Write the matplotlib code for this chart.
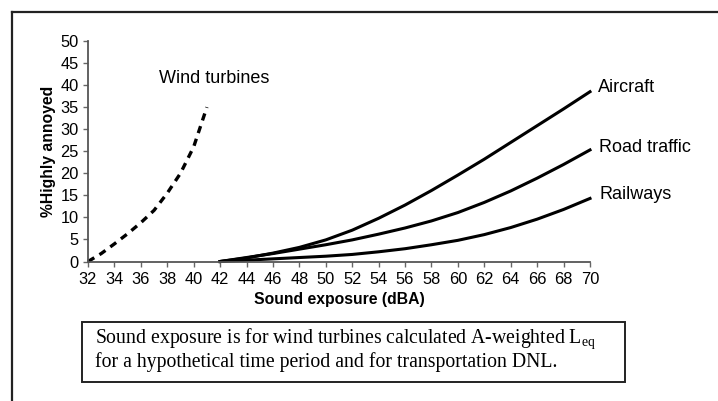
import matplotlib.pyplot as plt
from matplotlib.lines import Line2D
from matplotlib.patches import Rectangle

# values
wind_db = [32, 33, 34, 35, 36, 37, 38, 39, 40, 41]
wind_ha = [0, 1.8, 4.0, 6.3, 8.8, 11.6, 15.5, 20.0, 26.0, 35.0]

transport_db = [42, 44, 46, 48, 50, 52, 54, 56, 58, 60, 62, 64, 66, 68, 70]
aircraft_ha = [0, 0.8, 1.9, 3.2, 4.9, 7.1, 9.8, 12.8, 16.1, 19.6, 23.2, 27.0, 30.8, 34.6, 38.5]
road_ha = [0, 0.9, 1.8, 2.8, 3.8, 4.9, 6.2, 7.6, 9.2, 11.1, 13.4, 16.0, 18.9, 22.0, 25.3]
rail_ha = [0, 0.3, 0.6, 0.9, 1.2, 1.6, 2.2, 2.9, 3.8, 4.8, 6.1, 7.7, 9.6, 11.8, 14.3]

x_ticks = list(range(32, 71, 2))
y_ticks = list(range(0, 51, 5))

plt.rcParams['font.family'] = ['Liberation Sans', 'DejaVu Sans']

fig = plt.figure(figsize=(7.18, 4.01), dpi=100)
ax = fig.add_axes([88 / 718, 1 - 261.5 / 401, (590 - 88) / 718, (261.5 - 41) / 401])

ax.plot(wind_db, wind_ha, color='black', lw=2.4, linestyle=(0, (2.2, 1.8)), clip_on=False)
ax.plot(transport_db, aircraft_ha, color='black', lw=2.2, clip_on=False)
ax.plot(transport_db, road_ha, color='black', lw=2.2, clip_on=False)
ax.plot(transport_db, rail_ha, color='black', lw=2.2, clip_on=False)

ax.set_xlim(32, 70)
ax.set_ylim(0, 50)
ax.set_xticks(x_ticks)
ax.set_yticks(y_ticks)
ax.tick_params(direction='out', length=3.5, width=1, color='#666666', labelsize=11.8)
ax.tick_params(axis='x', pad=4)
ax.tick_params(axis='y', pad=3)
for side in ['top', 'right']:
    ax.spines[side].set_visible(False)
for side in ['left', 'bottom']:
    ax.spines[side].set_color('#555555')
    ax.spines[side].set_linewidth(1.3)

ax.set_xlabel('Sound exposure (dBA)', fontsize=11.3, fontweight='bold', labelpad=4)
ax.set_ylabel('%Highly annoyed', fontsize=11.3, fontweight='bold', labelpad=3)

ax.text(37.4, 41.5, 'Wind turbines', fontsize=13, va='center', ha='left')
ax.text(70.6, 39.4, 'Aircraft', fontsize=13, va='center', ha='left', clip_on=False)
ax.text(70.7, 25.8, 'Road traffic', fontsize=13, va='center', ha='left', clip_on=False)
ax.text(70.7, 15.2, 'Railways', fontsize=13, va='center', ha='left', clip_on=False)

# caption box
fig.add_artist(Rectangle((82 / 718, 1 - 382 / 401), (625 - 82) / 718, (382 - 322) / 401,
                         transform=fig.transFigure, fill=False, edgecolor='#222222', lw=1.4))
fig.text(95 / 718, 1 - 349 / 401,
         'Sound exposure is for wind turbines calculated A-weighted L$_{\\mathregular{eq}}$\n'
         'for a hypothetical time period and for transportation DNL.',
         family='Liberation Serif', fontsize=14.2, va='center', ha='left', linespacing=1.05)

# outer frame
fig.add_artist(Line2D([12 / 718, 1], [1 - 12 / 401, 1 - 12 / 401], transform=fig.transFigure,
                      color='#222222', lw=1.6))
fig.add_artist(Line2D([12 / 718, 12 / 718], [0, 1 - 12 / 401], transform=fig.transFigure,
                      color='#222222', lw=1.6))

fig.savefig('out.png', dpi=100)
